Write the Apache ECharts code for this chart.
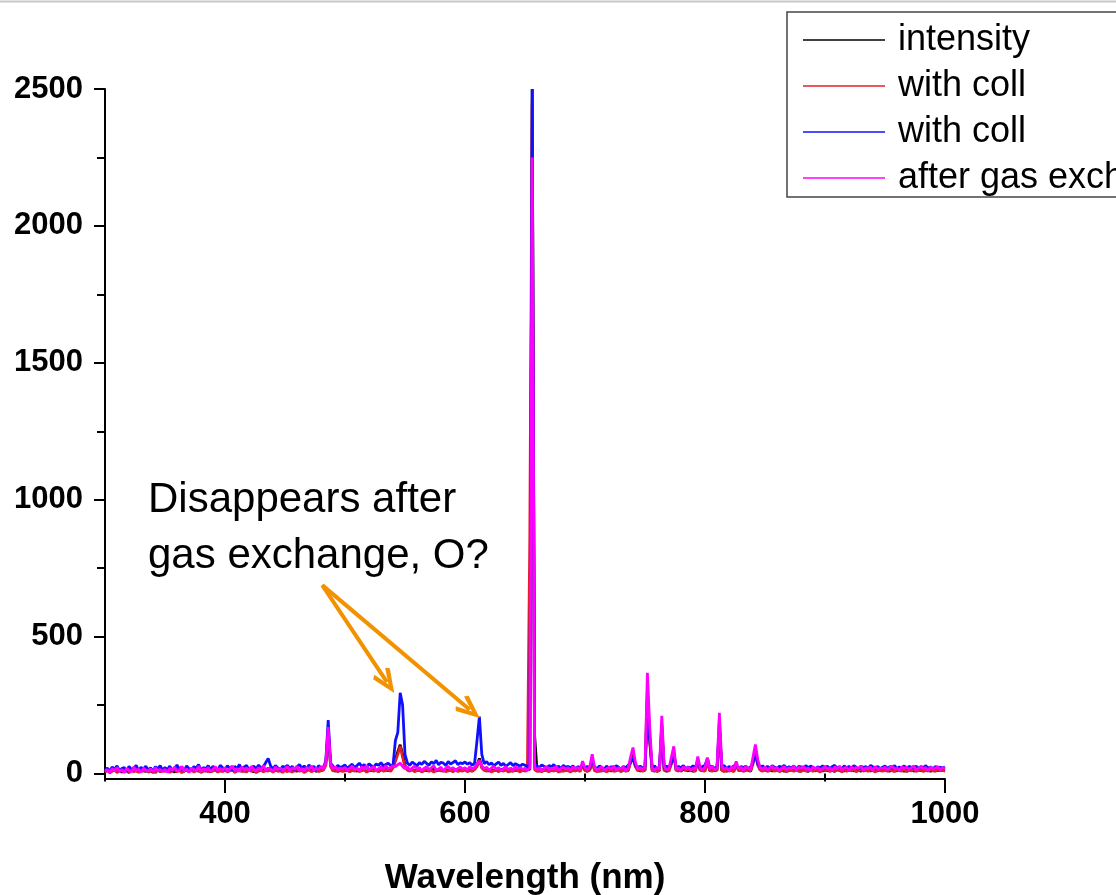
<!DOCTYPE html>
<html>
<head>
<meta charset="utf-8">
<title>spectrum</title>
<script src="https://cdn.jsdelivr.net/npm/echarts@6/dist/echarts.min.js"></script>
<style>
  html, body { margin: 0; padding: 0; background: #fff; }
  #chart { width: 1116px; height: 895px; }
</style>
</head>
<body>
<div id="chart"></div>
<script>
// wavelength grid, nm (one reading every 2 nm, 300 .. 1000)
var wlStart = 300
var wlStep = 2

var seriesNames = ['intensity', 'with coll', 'with coll ', 'after gas exchange']
var seriesColors = ['#000000', '#e0202a', '#1010ff', '#ff00ff']

// intensity
var intensity = [
  9,13,6,11,15,8,12,5,14,10,7,16,9,12,6,13,11,8,15,10,4,12,14,7,11,
  13,8,15,10,6,14,11,17,9,12,7,15,10,13,8,16,12,9,14,6,11,15,8,13,10,
  14,9,12,16,7,13,10,15,8,12,17,11,6,14,9,13,16,10,20,12,8,15,11,13,9,
  12,16,8,14,11,9,15,13,7,12,16,10,14,8,13,11,15,35,150,30,12,9,14,11,16,
  10,13,8,15,12,9,14,11,16,7,13,10,15,12,8,14,11,17,10,13,25,50,80,105,70,
  30,14,11,16,9,13,12,8,15,10,14,11,17,9,13,12,8,16,10,14,11,15,9,13,12,
  15,10,13,9,16,30,55,25,12,14,9,15,11,13,8,16,10,14,12,9,15,11,13,10,14,
  11,14,15,2500,140,12,9,14,11,16,8,13,10,15,12,9,14,11,16,8,13,10,15,12,35,
  12,9,14,50,11,13,8,15,10,12,16,9,13,11,14,8,15,10,12,45,70,28,13,9,14,
  11,300,130,12,9,14,10,180,13,8,15,38,80,11,14,9,16,12,10,13,8,15,50,11,14,
  12,48,9,15,11,13,190,10,14,8,12,16,9,35,11,13,10,15,12,8,45,90,38,14,10,
  15,11,13,9,16,10,14,12,8,15,11,13,10,16,9,12,14,11,8,15,13,10,12,16,9,
  13,10,15,11,8,14,12,16,9,13,11,15,10,12,14,8,16,11,13,9,15,12,10,14,11,
  14,11,9,15,12,10,16,13,8,14,11,15,9,12,13,10,16,11,14,8,12,15,10,13,11,
  12
]

// with coll (red)
var withColl1 = [
  5,10,3,8,12,4,9,14,6,11,2,13,7,10,4,12,8,15,5,9,11,3,13,7,10,
  8,12,4,10,14,6,11,3,9,13,7,15,5,10,12,4,8,14,6,11,9,13,5,10,7,
  12,6,10,14,4,9,13,7,11,5,15,8,12,3,10,14,6,11,9,13,5,12,8,10,4,
  11,7,13,5,10,14,8,12,4,9,15,6,11,13,7,10,12,30,160,25,9,13,6,11,8,
  10,14,6,12,9,15,7,11,13,5,10,14,8,12,6,15,9,11,13,8,20,45,70,100,60,
  25,12,9,14,7,11,13,6,10,15,8,12,5,11,14,9,13,7,10,12,6,14,8,11,9,
  13,7,11,9,15,25,50,20,12,8,14,6,10,13,7,12,9,15,5,11,8,13,10,6,12,
  9,12,860,2450,14,8,11,6,13,10,7,12,9,14,5,11,8,13,10,6,12,9,14,7,30,
  11,8,13,45,10,7,12,9,14,6,11,13,8,10,15,7,12,9,11,40,60,25,10,13,8,
  12,250,110,9,13,7,11,140,10,14,8,35,65,12,9,13,26,10,14,22,11,8,40,13,10,
  9,40,12,8,14,10,150,11,7,13,9,12,6,30,10,14,8,11,13,9,35,70,30,12,9,
  13,8,11,14,9,12,7,10,13,6,11,14,8,12,10,7,13,9,11,15,8,12,10,6,13,
  10,14,7,12,9,13,11,6,14,8,12,10,15,7,11,13,9,12,8,14,10,6,13,11,9,
  12,8,14,10,7,13,11,9,15,6,12,10,14,8,11,13,7,12,9,14,10,8,13,11,12,
  9
]

// with coll (blue)
var withColl2 = [
  12,20,9,24,15,28,11,18,22,7,26,14,19,30,10,23,16,27,13,21,8,25,17,29,12,
  22,14,27,10,19,31,16,24,9,28,18,13,25,20,33,11,22,17,29,14,26,19,12,30,21,
  15,28,20,11,26,18,33,14,24,30,12,22,27,17,31,19,25,40,55,28,16,29,21,13,26,
  23,30,17,27,12,25,33,19,28,15,31,22,26,14,29,20,24,45,195,38,27,18,30,22,26,
  31,19,27,34,22,29,38,25,33,20,36,28,24,35,30,40,27,33,38,29,30,120,150,295,250,
  70,38,30,42,35,28,40,33,45,37,30,43,36,48,32,41,38,29,44,35,40,47,33,39,36,
  42,34,40,30,38,120,208,70,36,44,32,39,28,35,42,30,37,26,33,40,29,36,31,27,34,
  30,25,32,2500,35,28,22,31,26,19,29,24,33,21,27,18,30,23,26,20,28,17,25,22,30,
  19,26,21,45,24,17,28,22,15,27,20,25,18,29,23,16,26,21,30,40,55,30,22,27,19,
  25,200,120,21,28,16,24,150,19,27,22,40,70,18,26,21,29,17,24,20,28,23,45,19,26,
  30,55,22,27,18,25,160,24,29,17,26,21,28,30,19,25,22,27,18,24,40,80,35,23,28,
  21,26,18,29,23,17,27,22,30,19,25,20,28,16,26,24,18,29,21,27,23,17,25,20,28,
  22,27,18,25,30,20,24,17,28,21,26,19,29,23,16,27,22,25,18,30,24,20,26,17,23,
  27,19,25,22,29,18,24,21,28,16,26,23,20,27,18,25,22,29,19,24,17,26,21,23,20,
  24
]

// after gas exchange (magenta)
var afterGas = [
  8,14,5,18,11,22,7,15,3,19,12,6,24,10,16,4,20,13,9,17,6,21,11,14,8,
  15,5,19,12,23,8,13,26,9,17,4,21,14,10,27,7,18,12,22,6,16,25,11,19,13,
  21,9,16,28,12,18,7,24,14,20,10,26,15,8,22,13,30,11,19,16,9,24,14,20,12,
  18,25,10,21,15,27,12,19,8,23,16,28,11,20,14,26,17,40,170,35,18,24,13,20,16,
  22,12,19,27,14,21,9,25,16,30,13,20,26,11,18,24,15,29,17,22,28,25,32,38,26,
  18,24,13,20,27,15,22,10,19,25,14,21,28,12,17,23,9,20,26,15,22,11,18,24,16,
  21,13,25,17,22,35,45,28,18,23,12,20,27,15,22,11,18,25,14,20,13,24,17,21,15,
  19,12,20,2250,24,14,22,9,18,26,13,20,15,27,11,19,23,16,21,12,25,17,22,14,45,
  20,14,26,70,22,13,19,25,11,18,23,15,28,12,21,17,24,10,19,60,95,40,16,22,13,
  24,368,165,18,12,22,15,211,26,13,19,60,99,14,21,10,25,17,23,12,20,16,62,19,14,
  22,58,17,25,13,20,222,28,15,21,11,24,18,44,16,23,12,26,19,14,60,106,50,21,15,
  24,13,20,27,16,22,11,19,25,14,21,17,28,12,23,18,26,15,20,10,24,17,22,13,19,
  26,15,21,12,24,18,27,14,20,23,11,25,16,22,19,28,13,21,17,24,12,26,15,20,18,
  23,14,22,27,16,20,12,25,18,24,15,21,28,13,19,26,17,22,11,24,16,20,25,14,21,
  18
]

// axis ticks
var xMajor = [400, 600, 800, 1000]
var xMinor = [300, 500, 700, 900]
var yMajor = [0, 500, 1000, 1500, 2000, 2500]
var yMinor = [250, 750, 1250, 1750, 2250]

// annotation arrows: [start, end] in data units
var arrowFrom = [481, 688]
var arrowTo = [[535, 334], [604, 233]]

var font = '"Liberation Sans", Arial, sans-serif'

function toPairs(arr) {
  return arr.map(function (v, i) { return [wlStart + i * wlStep, v] })
}

function plain(v) {
  return String(v)
}

var chart = echarts.init(document.getElementById('chart'))

var allData = [intensity, withColl1, withColl2, afterGas]
var series = allData.map(function (arr, k) {
  return {
    name: seriesNames[k],
    type: 'line',
    data: toPairs(arr),
    symbol: 'none',
    showSymbol: false,
    sampling: null,
    color: seriesColors[k],
    lineStyle: { width: 2.8, color: seriesColors[k] },
    z: 2 + k
  }
})

// arrows go on the last series
series[3].markLine = {
  silent: true,
  animation: false,
  symbol: ['none', 'path://M5,0 L10,9 L8.2,10.2 L5,4 L1.8,10.2 L0,9 Z'],
  symbolSize: [20, 26],
  label: { show: false },
  lineStyle: { color: '#f39200', width: 4, type: 'solid' },
  data: arrowTo.map(function (p) {
    return [{ coord: arrowFrom }, { coord: p }]
  })
}

var axisLineStyle = { color: '#000', width: 2 }

var option = {
  animation: false,
  backgroundColor: '#fff',
  grid: {
    left: 105,
    right: 171,
    top: 89,
    bottom: 116,
    containLabel: false,
    outerBoundsMode: 'none'
  },
  legend: {
    orient: 'vertical',
    left: 787,
    top: 12,
    padding: [10, 0, 1, 16],
    icon: 'rect',
    itemWidth: 82,
    itemHeight: 1.5,
    itemGap: 10,
    borderColor: '#444',
    borderWidth: 1.5,
    backgroundColor: '#fff',
    textStyle: {
      fontFamily: font,
      fontSize: 36,
      lineHeight: 36,
      color: '#000',
      padding: [0, 0, 0, 8]
    },
    data: seriesNames
  },
  xAxis: [
    {
      type: 'value',
      min: 300,
      max: 1000,
      position: 'bottom',
      axisLine: { show: true, onZero: false, lineStyle: axisLineStyle },
      axisTick: { show: true, length: 14, customValues: xMajor, lineStyle: { width: 2, color: '#000' } },
      axisLabel: {
        customValues: xMajor,
        formatter: plain,
        margin: 20,
        color: '#000',
        fontFamily: font,
        fontWeight: 'bold',
        fontSize: 31
      },
      splitLine: { show: false },
      name: 'Wavelength (nm)',
      nameLocation: 'middle',
      nameGap: 82,
      nameTextStyle: { fontFamily: font, fontWeight: 'bold', fontSize: 35, color: '#000' }
    },
    {
      type: 'value',
      min: 300,
      max: 1000,
      position: 'bottom',
      axisLine: { show: false },
      axisTick: { show: true, length: 8, customValues: xMinor, lineStyle: { width: 2, color: '#000' } },
      axisLabel: { show: false },
      splitLine: { show: false }
    }
  ],
  yAxis: [
    {
      type: 'value',
      min: -20,
      max: 2500,
      position: 'left',
      axisLine: { show: true, onZero: false, lineStyle: axisLineStyle },
      axisTick: { show: true, length: 11, customValues: yMajor, lineStyle: { width: 2, color: '#000' } },
      axisLabel: {
        customValues: yMajor,
        formatter: plain,
        margin: 22,
        color: '#000',
        fontFamily: font,
        fontWeight: 'bold',
        fontSize: 31
      },
      splitLine: { show: false }
    },
    {
      type: 'value',
      min: -20,
      max: 2500,
      position: 'left',
      axisLine: { show: false },
      axisTick: { show: true, length: 8, customValues: yMinor, lineStyle: { width: 2, color: '#000' } },
      axisLabel: { show: false },
      splitLine: { show: false }
    }
  ],
  graphic: [
    {
      type: 'line',
      shape: { x1: 0, y1: 1.5, x2: 1116, y2: 1.5 },
      style: { stroke: '#c8c8c8', lineWidth: 2 }
    },
    {
      type: 'text',
      left: 148,
      top: 472,
      style: {
        text: 'Disappears after\ngas exchange, O?',
        font: '42px ' + font,
        lineHeight: 56,
        fill: '#000'
      }
    }
  ],
  series: series
}

chart.setOption(option)
</script>
</body>
</html>
